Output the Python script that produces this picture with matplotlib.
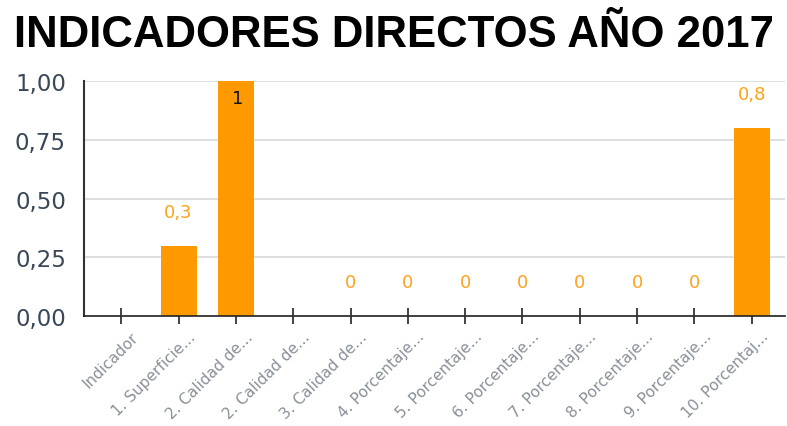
import matplotlib
matplotlib.use("Agg")
import matplotlib.pyplot as plt
import matplotlib.transforms as mtransforms
import numpy as np

categories = ["Indicador", "1. Superficie...", "2. Calidad de...", "2. Calidad de...",
              "3. Calidad de...", "4. Porcentaje...", "5. Porcentaje...", "6. Porcentaje...",
              "7. Porcentaje...", "8. Porcentaje...", "9. Porcentaje...", "10. Porcentaj..."]
values = [None, 0.3, 1, None, 0, 0, 0, 0, 0, 0, 0, 0.8]
value_labels = [None, "0,3", "1", None, "0", "0", "0", "0", "0", "0", "0", "0,8"]
yticks = [0, 0.25, 0.5, 0.75, 1.0]
ytick_labels = ["0,00", "0,25", "0,50", "0,75", "1,00"]
title = "INDICADORES DIRECTOS AÑO 2017"

orange = "#FF9900"
fig = plt.figure(figsize=(7.87, 4.27), dpi=100)
ax = fig.add_axes([84/787, (427-317)/427, (785-84)/787, (317-82)/427])

x = np.arange(len(categories))
for i, v in enumerate(values):
    if v is None:
        continue
    if v > 0:
        ax.bar(i, v, width=0.63, color=orange, zorder=2)
for i, (v, lab) in enumerate(zip(values, value_labels)):
    if lab is None:
        continue
    if v >= 0.95:
        ax.text(i + 0.03, v - 0.035, lab, ha="center", va="top", color="#111111", fontsize=13)
    else:
        ax.text(i, v + 0.105, lab, ha="center", va="bottom", color="#FFA31F", fontsize=13, clip_on=False)

ax.set_xlim(-0.65, 11.58)
ax.set_ylim(0, 1)
ax.set_yticks(yticks)
ax.set_yticklabels(ytick_labels, fontsize=16.5, color="#3a4756")
ax.tick_params(axis="y", length=0, pad=13)
ax.set_xticks(x)
ax.set_xticklabels(categories, rotation=45, ha="right", rotation_mode="anchor",
                   fontsize=11, color="#8a9099")
ax.tick_params(axis="x", direction="inout", length=12, width=1.2, color="#222222", pad=3)
offset = mtransforms.ScaledTranslation(9/100, 0, fig.dpi_scale_trans)
for lbl in ax.get_xticklabels():
    lbl.set_transform(lbl.get_transform() + offset)
ax.grid(axis="y", color="#d9d9d9", linewidth=1.2, zorder=0)
ax.set_axisbelow(True)
for s in ["top", "right"]:
    ax.spines[s].set_visible(False)
ax.spines["left"].set_color("#333333")
ax.spines["left"].set_linewidth(1.5)
ax.spines["bottom"].set_color("#222222")
ax.spines["bottom"].set_linewidth(1.2)

fig.text(0.5, 0.917, title, ha="center", va="center", fontsize=31.5, fontweight="bold",
         family="Liberation Sans", color="#000000")

fig.savefig("out.png", dpi=100)
